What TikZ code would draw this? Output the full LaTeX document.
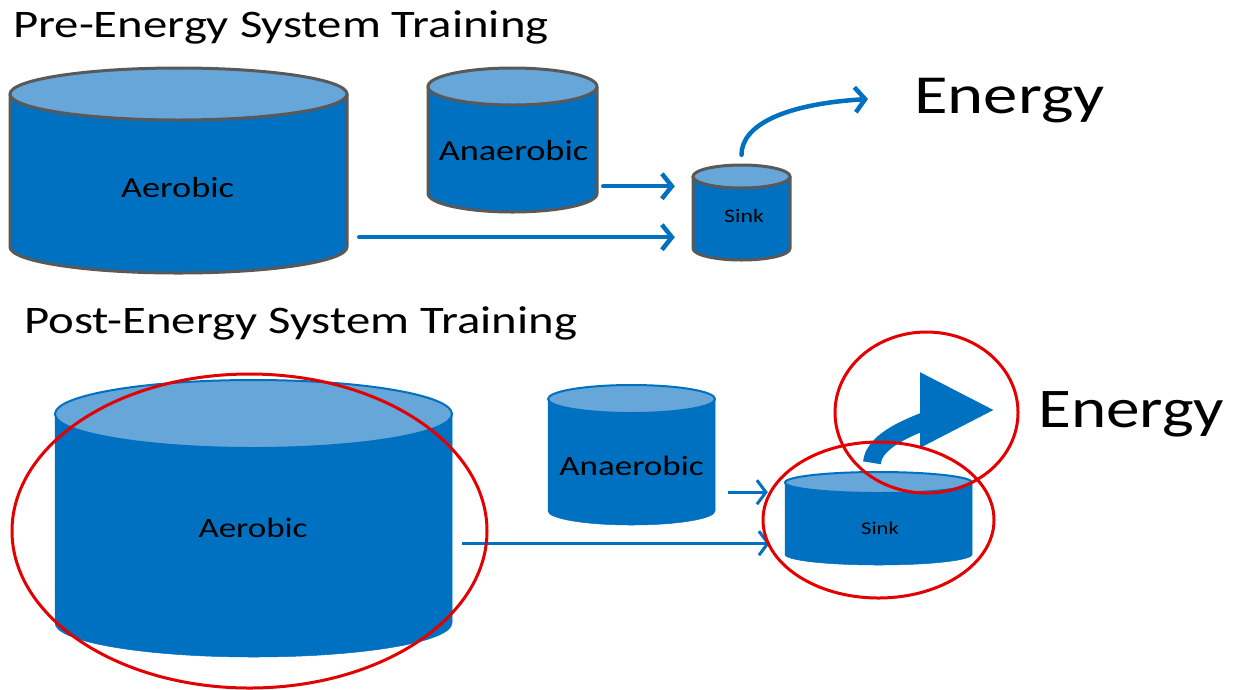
\documentclass[tikz,border=0pt]{standalone}
\usepackage{fontspec}
\setmainfont{Carlito}
\usetikzlibrary{arrows.meta}
\definecolor{tankblue}{RGB}{0,112,192}
\definecolor{lidblue}{RGB}{102,166,216}
\definecolor{rimgray}{RGB}{89,89,89}
\definecolor{ringred}{RGB}{228,0,0}
\tikzstyle{preside} = [fill=tankblue]
\tikzstyle{prerim} = [draw=rimgray, line width=3pt, line join=round]
\tikzstyle{prelid} = [fill=lidblue, draw=rimgray, line width=3pt]
\tikzstyle{postside} = [fill=tankblue]
\tikzstyle{postrim} = [draw=tankblue, line width=0.5pt]
\tikzstyle{postlid} = [fill=lidblue, draw=tankblue, line width=2pt]
\tikzstyle{flow} = [draw=tankblue, line width=4.5pt, line cap=round, -{Straight Barb[length=10pt,width=25pt]}]
\tikzstyle{thinflow} = [draw=tankblue, line width=3pt, -{Straight Barb[length=9pt,width=24pt]}]
\tikzstyle{bigflow} = [draw=tankblue, line width=18pt, -{Triangle[length=75pt,width=70pt]}]
\tikzstyle{ring} = [draw=ringred, line width=3pt]
\tikzstyle{title} = [anchor=base west, inner sep=0pt, font=\fontsize{39}{39}\selectfont]
\tikzstyle{energy} = [anchor=base west, inner sep=0pt, font=\fontsize{55}{55}\selectfont]
\tikzstyle{tanklabel} = [anchor=base, inner sep=0pt]
\newcommand{\wide}[1]{\scalebox{1.25}[1]{#1}}
% name, centre x, top y, bottom y, x radius, y radius, look
\newcommand{\tank}[7]{%
  \pgfmathsetmacro{\tkl}{#2-#5}
  \pgfmathsetmacro{\tkr}{#2+#5}
  \pgfmathsetmacro{\tkh}{#4-#3+2*#6}
  \pgfmathsetmacro{\tkm}{(#3+#4)/2}
  \fill[#7side] (\tkl,#3) -- (\tkl,#4) arc [start angle=180, end angle=0, x radius=#5, y radius=#6] -- (\tkr,#3) -- cycle;
  \draw[#7rim] (\tkl,#3) -- (\tkl,#4) arc [start angle=180, end angle=0, x radius=#5, y radius=#6] -- (\tkr,#3);
  \filldraw[#7lid] (#2,#3) ellipse [x radius=#5, y radius=#6];
  \node [inner sep=0pt, minimum width={2*#5pt}, minimum height={\tkh pt}] (#1) at (#2,\tkm) {};
}

\begin{document}
\begin{tikzpicture}[x=1pt, y=-1pt]
  \useasboundingbox (0,0) rectangle (1238,689);

  % Pre training
  \node [title] (preTitle) at (13,37) {\wide{Pre-Energy System Training}};
  \tank{preAer}{178.5}{94}{247}{168.5}{26}{pre}
  \tank{preAna}{512.5}{86.5}{193.5}{84.5}{18.5}{pre}
  \tank{preSink}{741.5}{176.5}{248.5}{48.5}{11.5}{pre}
  \node [tanklabel, font=\fontsize{29}{29}\selectfont] (preAerTxt) at (177.5,197) {\wide{Aerobic}};
  \node [tanklabel, font=\fontsize{29}{29}\selectfont] (preAnaTxt) at (513.5,160) {\wide{Anaerobic}};
  \node [tanklabel, font=\fontsize{19}{19}\selectfont] (preSinkTxt) at (744,222) {\wide{Sink}};
  \node [energy] (preEnergy) at (914,113) {\wide{Energy}};

  \coordinate (preAerOut) at ([xshift=12pt,yshift=36pt]preAer.south east);
  \coordinate (preAnaOut) at ([xshift=6pt,yshift=26pt]preAna.south east);
  \draw [flow] (preAerOut) -- ([xshift=-18pt]preSink.west |- preAerOut);
  \draw [flow] (preAnaOut) -- ([xshift=-18pt]preSink.west |- preAnaOut);
  \draw [flow] ([yshift=10pt]preSink.north) .. controls +(0,-30) and +(-83,5) .. ([xshift=-46pt,yshift=14pt]preEnergy.base west);

  % Post training
  \node [title] (postTitle) at (24,333) {\wide{Post-Energy System Training}};
  \tank{postAer}{253.5}{414}{623}{198.5}{34}{post}
  \tank{postAna}{631.5}{399}{511}{83.5}{14}{post}
  \tank{postSink}{878.5}{482.5}{554.5}{93.5}{10.5}{post}
  \node [tanklabel, font=\fontsize{28}{28}\selectfont] (postAerTxt) at (253,537) {\wide{Aerobic}};
  \node [tanklabel, font=\fontsize{28}{28}\selectfont] (postAnaTxt) at (631.5,475) {\wide{Anaerobic}};
  \node [tanklabel, font=\fontsize{18}{18}\selectfont] (postSinkTxt) at (880,534) {\wide{Sink}};
  \node [energy, font=\fontsize{56}{56}\selectfont] (postEnergy) at (1038,427) {\scalebox{1.2}[1]{Energy}};

  \coordinate (postAerOut) at ([xshift=10pt,yshift=114pt]postAer.south east);
  \coordinate (postAnaOut) at ([xshift=13pt,yshift=33pt]postAna.south east);
  \draw [thinflow] (postAerOut) -- ([xshift=-15pt]postSink.west |- postAerOut);
  \draw [thinflow] (postAnaOut) -- ([xshift=-17pt]postSink.west |- postAnaOut);
  \draw [bigflow] ([xshift=-6.5pt,yshift=9pt]postSink.north) .. controls +(3,-40) and +(-5,0) .. ([xshift=-43pt,yshift=17pt]postEnergy.base west);

  % red rings
  \draw [ring] ([xshift=-4pt,yshift=-12.5pt]postAer.center) ellipse [x radius=237.5, y radius=157];
  \draw [ring] ([yshift=-1.5pt]postSink.center) ellipse [x radius=115.5, y radius=78];
  \draw [ring] (926.5,412.5) ellipse [x radius=91.5, y radius=80.5];
\end{tikzpicture}
\end{document}
